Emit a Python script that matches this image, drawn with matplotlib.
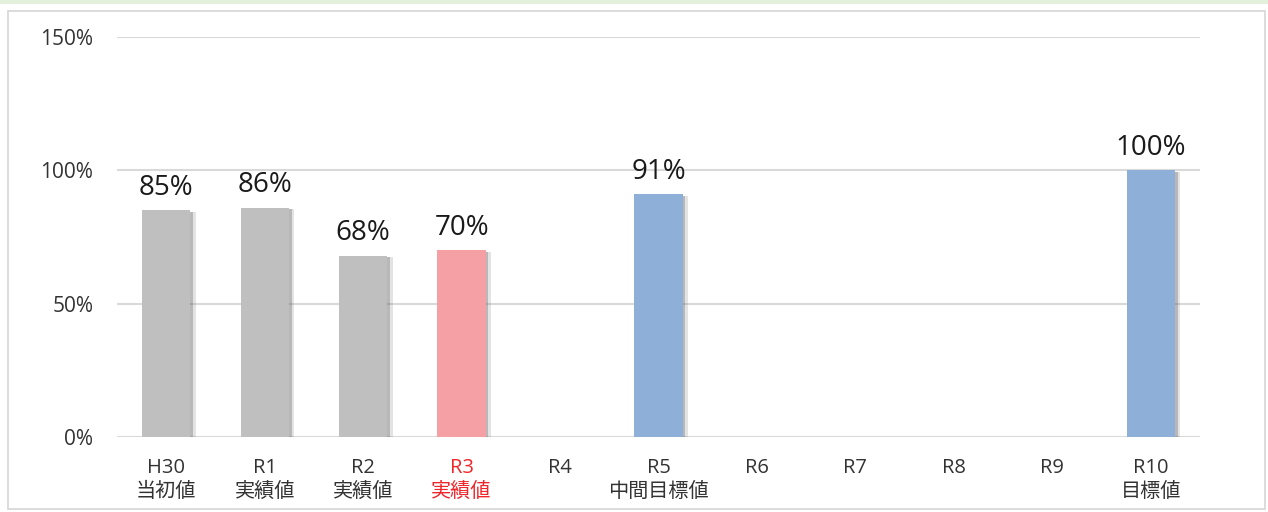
import numpy as np
import matplotlib.pyplot as plt
import matplotlib.patheffects as pe
from matplotlib.patches import Rectangle

plt.rcParams['font.family'] = ['Open Sans', 'Noto Sans CJK JP', 'DejaVu Sans']

# データ
years = ['H30', 'R1', 'R2', 'R3', 'R4', 'R5', 'R6', 'R7', 'R8', 'R9', 'R10']
notes = ['当初値', '実績値', '実績値', '実績値', '', '中間目標値', '', '', '', '', '目標値']
rates = [85, 86, 68, 70, np.nan, 91, np.nan, np.nan, np.nan, np.nan, 100]
kinds = ['past', 'past', 'past', 'now', '', 'goal', '', '', '', '', 'goal']

colors = {'past': '#BFBFBF', 'now': '#F4A0A4', 'goal': '#8EB0D8', '': 'none'}

fig = plt.figure(figsize=(12.68, 5.12), dpi=100)
ax = fig.add_axes([117 / 1268, 75 / 512, 1083 / 1268, 400 / 512])

# 枠線と上部の帯
fig.patches.append(Rectangle((8 / 1268, 3 / 512), 1257 / 1268, 498 / 512,
                             transform=fig.transFigure, fill=False,
                             edgecolor='#D6D6D6', linewidth=1.2))
fig.patches.append(Rectangle((0, 508 / 512), 1, 4 / 512,
                             transform=fig.transFigure, facecolor='#E3F1DC',
                             edgecolor='none'))

x = np.arange(len(years))
bars = ax.bar(x, rates, width=0.49, color=[colors[k] for k in kinds], zorder=3)
for b in bars:
    b.set_path_effects([pe.SimplePatchShadow(offset=(4, -1), shadow_rgbFace='#777777', alpha=0.2),
                        pe.SimplePatchShadow(offset=(2, -1), shadow_rgbFace='#555555', alpha=0.3),
                        pe.Normal()])

for xi, v in zip(x, rates):
    if not np.isnan(v):
        ax.annotate(f'{v:.0f}%', (xi, v), xytext=(0, 6), textcoords='offset points',
                    ha='center', va='bottom', fontsize=20, color='#1A1A1A')

ax.set_xlim(-0.5, len(years) - 0.5)
ax.set_ylim(0, 150)
ax.set_yticks([0, 50, 100, 150])
ax.set_yticklabels(['0%', '50%', '100%', '150%'])
ax.yaxis.grid(True, color='#D9D9D9', linewidth=1.5, zorder=0)
ax.set_xticks(x)
ax.set_xticklabels([f'{y}\n{n}' if n else y for y, n in zip(years, notes)],
                   va='top', linespacing=1.25)
ax.tick_params(axis='x', length=0, pad=15, labelsize=14.5, labelcolor='#333333')
ax.tick_params(axis='y', length=0, pad=17, labelsize=15, labelcolor='#333333')
ax.get_xticklabels()[3].set_color('#F0262A')
for s in ax.spines.values():
    s.set_visible(False)

fig.savefig('out.png', dpi=100)
